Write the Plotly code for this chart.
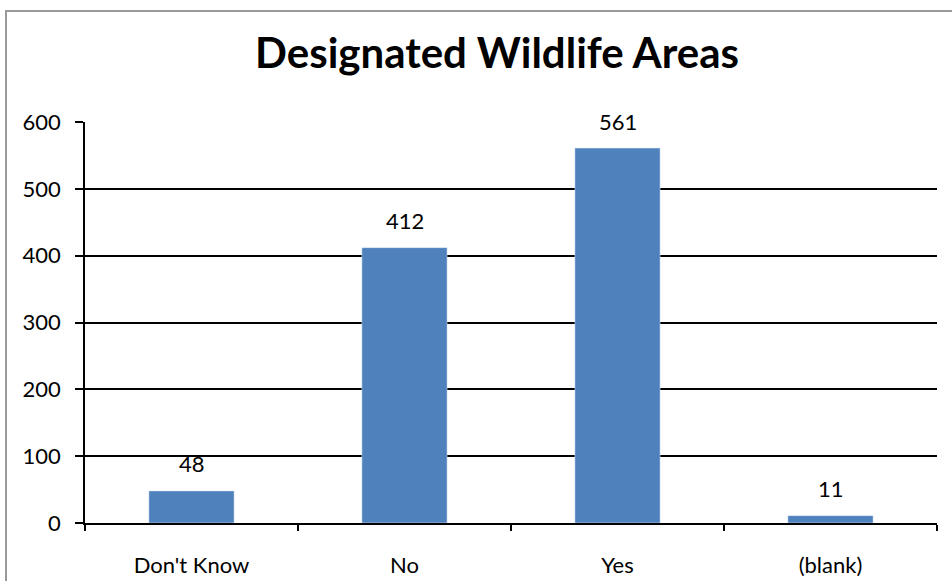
import plotly.graph_objects as go

categories = ["Don't Know", "No", "Yes", "(blank)"]
counts = [48, 412, 561, 11]
y_ticks = [0, 100, 200, 300, 400, 500, 600]

L, R, T, B = 85, 15, 122, 58
W, H = 952, 581
pw, ph = W - L - R, H - T - B

fig = go.Figure(go.Bar(
    x=categories, y=counts, marker_color="#4F81BD", width=0.4,
))

for c, v in zip(categories, counts):
    fig.add_annotation(x=c, y=v, text=str(v), showarrow=False, yshift=27,
                       font=dict(family="Lato", size=22, color="black"))

fig.update_layout(
    width=W, height=H, autosize=False,
    margin=dict(l=L, r=R, t=T, b=B, autoexpand=False),
    paper_bgcolor="white", plot_bgcolor="white",
    title=dict(text="<b>Designated Wildlife Areas</b>", x=497 / W, xanchor="center",
               y=1 - 53 / H, yanchor="middle", automargin=False,
               font=dict(family="Lato", size=42, color="black")),
    showlegend=False,
    font=dict(family="Lato", size=22, color="black"),
)
fig.update_yaxes(range=[0, 600], tickvals=y_ticks, showgrid=True, gridcolor="black",
                 gridwidth=1.5, showline=True, linecolor="black", linewidth=1.5,
                 ticks="outside", ticklen=8, tickcolor="black", tickwidth=1.5,
                 zeroline=False, ticklabelstandoff=10, automargin=False)
fig.update_xaxes(showline=True, linecolor="black", linewidth=1.5, ticks="outside",
                 ticklen=6, tickcolor="black", tickwidth=1.5, tickson="boundaries",
                 showgrid=False, ticklabelstandoff=22, automargin=False)

# outer chart border (left and top edges visible, others beyond the page)
fig.add_shape(type="rect", xref="paper", yref="paper",
              x0=(6 - L) / pw, x1=(W + 40 - L) / pw,
              y0=-(H + 40 - T - ph) / ph, y1=1 + (T - 11) / ph,
              line=dict(color="#999999", width=2), layer="below")

fig.write_html("out.html", config={"displayModeBar": False},
               post_script="document.body.style.margin='0';")
